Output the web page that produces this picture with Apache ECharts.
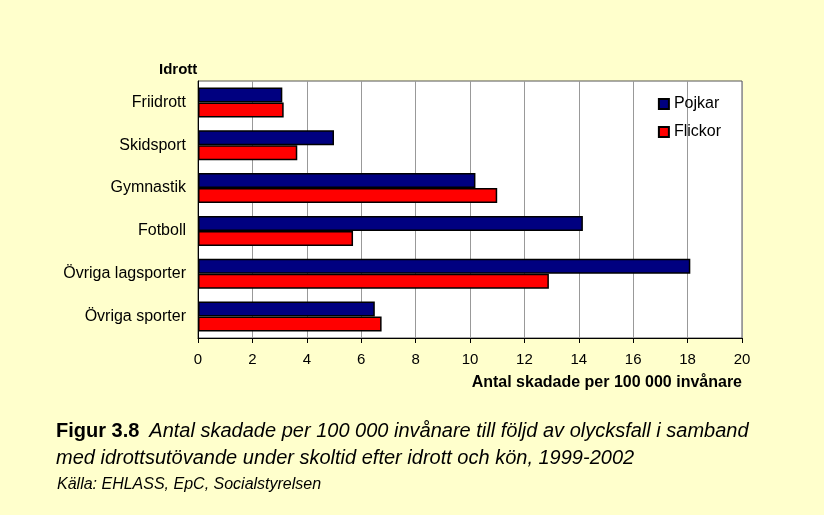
<!DOCTYPE html>
<html>
<head>
<meta charset="utf-8">
<script src="https://cdn.jsdelivr.net/npm/echarts@6/dist/echarts.min.js"></script>
<style>
  html, body { margin: 0; padding: 0; background: #ffffcc; }
  #chart { width: 824px; height: 515px; }
</style>
</head>
<body>
<div id="chart"></div>
<script>
// data
const sports = ['Friidrott', 'Skidsport', 'Gymnastik', 'Fotboll', 'Övriga lagsporter', 'Övriga sporter'];
const pojkar = [3.1, 5.0, 10.2, 14.15, 18.1, 6.5];
const flickor = [3.15, 3.65, 11.0, 5.7, 12.9, 6.75];
const xTicks = [0, 2, 4, 6, 8, 10, 12, 14, 16, 18, 20];

const font = 'Liberation Sans, Arial, sans-serif';

const chart = echarts.init(document.getElementById('chart'));
chart.setOption({
    animation: false,
    backgroundColor: '#ffffcc',
    textStyle: { fontFamily: font },
    grid: {
        left: 198,
        right: 82,
        top: 81,
        bottom: 177,
        show: true,
        backgroundColor: '#ffffff',
        borderColor: '#555555',
        borderWidth: 1
    },
    title: [
        {
            text: 'Idrott',
            left: 154,
            top: 57,
            textStyle: { fontSize: 15, fontWeight: 'bold', color: '#000', fontFamily: font }
        },
        {
            text: '{b|Figur 3.8}  {i|Antal skadade per 100 000 invånare till följd av olycksfall i samband}\n{i|med idrottsutövande under skoltid efter idrott och kön, 1999-2002}',
            left: 51,
            top: 413,
            textStyle: {
                fontFamily: font,
                fontWeight: 'normal',
                rich: {
                    b: { fontSize: 20, fontWeight: 'bold', fontStyle: 'normal', color: '#000', lineHeight: 27, fontFamily: font },
                    i: { fontSize: 20, fontWeight: 'normal', fontStyle: 'italic', color: '#000', lineHeight: 27, fontFamily: font }
                }
            }
        },
        {
            text: 'Källa: EHLASS, EpC, Socialstyrelsen',
            left: 52,
            top: 472,
            textStyle: { fontSize: 16, fontStyle: 'italic', fontWeight: 'normal', color: '#000', fontFamily: font }
        }
    ],
    legend: {
        orient: 'vertical',
        right: 98,
        top: 91,
        icon: 'rect',
        itemWidth: 10,
        itemHeight: 10,
        itemGap: 12,
        textStyle: { fontSize: 16, color: '#000', fontFamily: font },
        data: ['Pojkar', 'Flickor']
    },
    xAxis: {
        type: 'value',
        min: 0,
        max: 20,
        interval: 2,
        name: 'Antal skadade per 100 000 invånare',
        nameLocation: 'end',
        nameGap: 0,
        nameTextStyle: {
            fontSize: 16,
            fontWeight: 'bold',
            color: '#000',
            align: 'right',
            verticalAlign: 'top',
            padding: [37, 0, 0, 0]
        },
        axisLine: { show: true, lineStyle: { color: '#000' } },
        axisTick: { show: true, length: 5, lineStyle: { color: '#000' } },
        axisLabel: {
            fontSize: 15,
            color: '#000',
            margin: 14,
            formatter: function (v) { return xTicks.indexOf(v) >= 0 ? String(v) : ''; }
        },
        splitLine: { show: true, lineStyle: { color: '#999999', width: 1 } }
    },
    yAxis: {
        type: 'category',
        data: sports,
        inverse: true,
        axisLine: { show: true, lineStyle: { color: '#000' } },
        axisTick: { show: false },
        axisLabel: { fontSize: 16, color: '#000', margin: 12 }
    },
    series: [
        {
            name: 'Pojkar',
            type: 'bar',
            data: pojkar,
            barGap: '0%',
            barCategoryGap: '30%',
            itemStyle: { color: '#000080', borderColor: '#000', borderWidth: 1.5 }
        },
        {
            name: 'Flickor',
            type: 'bar',
            data: flickor,
            itemStyle: { color: '#ff0000', borderColor: '#000', borderWidth: 1.5 }
        }
    ]
});
</script>
</body>
</html>
